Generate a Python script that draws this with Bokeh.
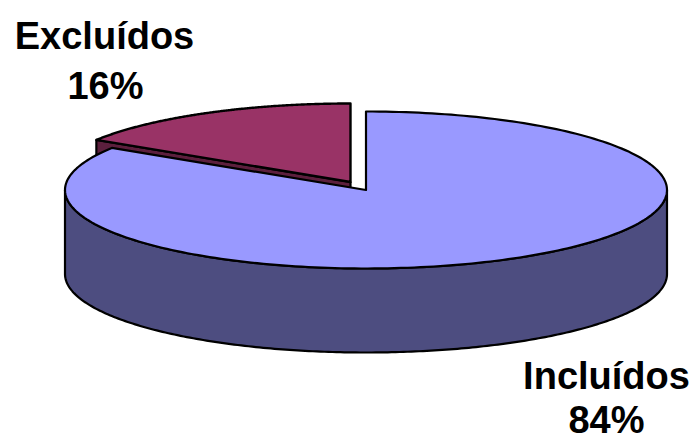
import numpy as np
from bokeh.embed import file_html
from bokeh.models import Range1d
from bokeh.plotting import figure
from bokeh.resources import INLINE
from bokeh.core.properties import value

categories = ["Incluídos", "Excluídos"]
shares = [84, 16]
percent_labels = ["84%", "16%"]
top_colors = ["#9999ff", "#993366"]
side_colors = ["#4d4d80", "#5c1f3d"]

# Projected pie geometry, in page pixels
CX, CY, RX, RY, DEPTH = 365.5, 189.5, 301.0, 78.5, 84.0
RED_DX, RED_DY = -15.5, -8.0
FONT = value("Liberation Sans")

p = figure(width=697, height=441, output_backend="svg", toolbar_location=None,
           x_range=Range1d(0, 697), y_range=Range1d(441, 0), min_border=0)
p.axis.visible = False
p.grid.visible = False
p.outline_line_color = None


def rim(start, stop, dx=0.0, dy=0.0, n=240):
    """Points on the pie's rim; angles run clockwise from the top, in turns."""
    a = 2 * np.pi * np.linspace(start, stop, n)
    return CX + dx + RX * np.sin(a), CY + dy - RY * np.cos(a)


total = sum(shares)
blue_end = shares[0] / total

# Excluded slice, pulled out of the pie: cut face first, then its top
ex, ey = rim(blue_end, 1.0, RED_DX, RED_DY)
ax, ay = CX + RED_DX, CY + RED_DY
p.patch([ax, ex[0], ex[0], ax], [ay, ey[0], ey[0] + DEPTH, ay + DEPTH],
        fill_color=side_colors[1], line_color="black", line_width=2.2)
p.patch([ax, *ex], [ay, *ey], fill_color=top_colors[1],
        line_color="black", line_width=2.4, line_join="round")

# Included slice: front wall of the cylinder, then the top face
fx, fy = rim(0.25, 0.75)
p.patch([*fx, *fx[::-1]], [*fy, *(fy[::-1] + DEPTH)], fill_color=side_colors[0],
        line_color="black", line_width=2.2, line_join="round")
bx, by = rim(0.0, blue_end)
p.patch([CX, *bx], [CY, *by], fill_color=top_colors[0],
        line_color="black", line_width=2.2, line_join="round")

# Category and percentage captions
p.text(x=[606, 606], y=[375, 419], text=[categories[0], percent_labels[0]],
       text_font=FONT, text_font_style="bold", text_font_size="38px",
       text_align="center", text_baseline="middle", text_color="black")
p.text(x=[104, 105], y=[35, 85], text=[categories[1], percent_labels[1]],
       text_font=FONT, text_font_style="bold", text_font_size="38px",
       text_align="center", text_baseline="middle", text_color="black")

open("out.html", "w").write(file_html(p, INLINE))
